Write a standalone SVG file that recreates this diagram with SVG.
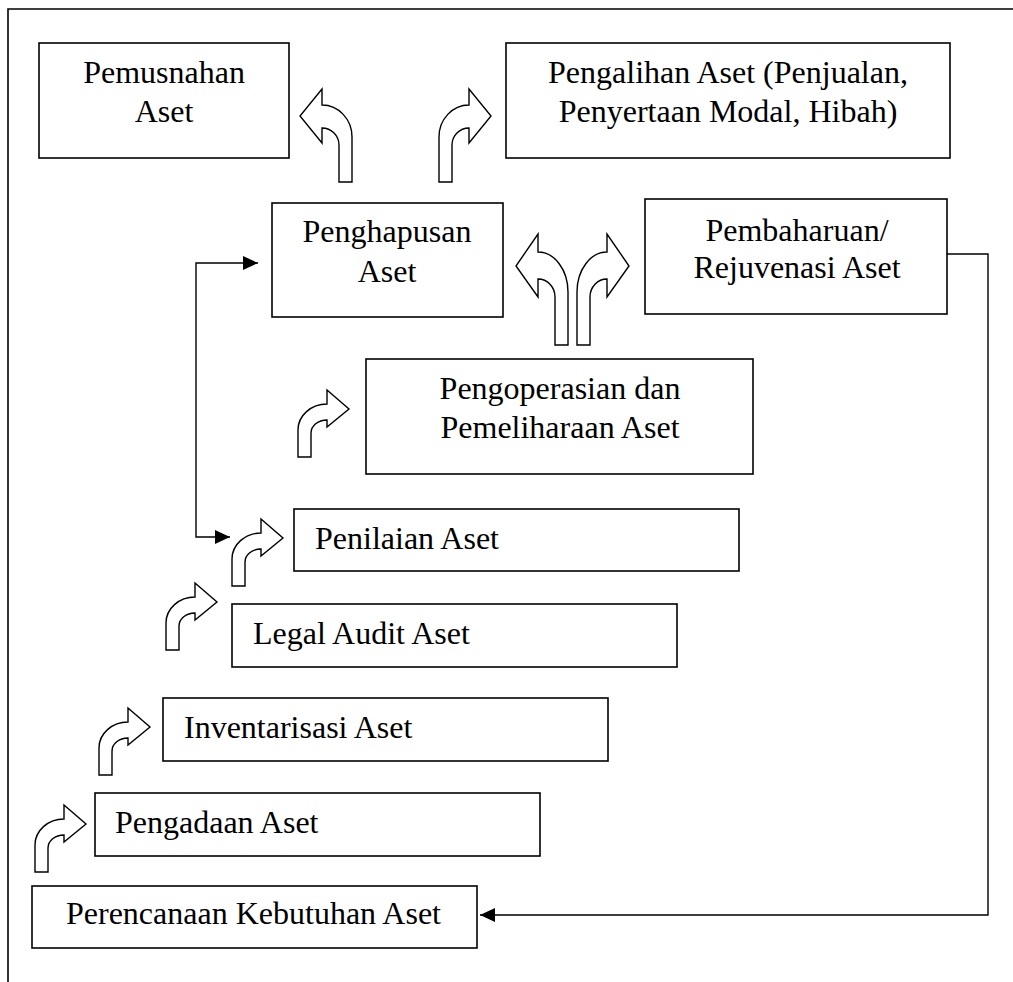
<svg xmlns="http://www.w3.org/2000/svg" width="1013" height="982" viewBox="0 0 1013 982">
<style>
.box{fill:#fff;stroke:#000;stroke-width:1.6}
.t{font-family:"Liberation Serif","Times New Roman",serif;font-size:32px;fill:#000}
.c{text-anchor:middle}
.bent{fill:#fff;stroke:#000;stroke-width:1.4;stroke-linejoin:miter}
.conn{fill:none;stroke:#000;stroke-width:1.4}
</style>
<defs>
<marker id="ah" markerUnits="userSpaceOnUse" markerWidth="16" markerHeight="14" refX="15" refY="7" orient="auto-start-reverse">
<path d="M0,0 L15,7 L0,14 Z" fill="#000"/>
</marker>
<path id="bs" d="M0,0 V-27 A29,26 0 0 1 29,-53 V-67 L51,-48 L29,-30 V-37 A16,13 0 0 0 13,-24 V0 Z"/>
<path id="bt" d="M0,0 V-45 A30,32 0 0 1 30,-77 V-93 L52,-66 L30,-39 V-54 A17,17 0 0 0 13,-37 V0 Z"/>
<path id="bd" d="M0,0 V-53 A30,40 0 0 1 30,-93 V-111 L52,-79 L30,-48 V-66 A17,18 0 0 0 13,-48 V0 Z"/>
</defs>
<rect width="1013" height="982" fill="#fff"/>
<path d="M8,982 V9 H1013" fill="none" stroke="#000" stroke-width="1.6"/>

<g id="pemusnahan">
<rect class="box" x="39" y="43" width="250" height="115"/>
<text class="t c" x="164" y="83">Pemusnahan</text>
<text class="t c" x="164" y="122">Aset</text>
</g>
<g id="pengalihan">
<rect class="box" x="506" y="43" width="444" height="115"/>
<text class="t c" x="728" y="83">Pengalihan Aset (Penjualan,</text>
<text class="t c" x="728" y="122">Penyertaan Modal, Hibah)</text>
</g>
<g id="penghapusan">
<rect class="box" x="272" y="203" width="231" height="114"/>
<text class="t c" x="387" y="242">Penghapusan</text>
<text class="t c" x="387" y="282">Aset</text>
</g>
<g id="pembaharuan">
<rect class="box" x="645" y="199" width="302" height="115"/>
<text class="t c" x="797" y="241">Pembaharuan/</text>
<text class="t c" x="797" y="278">Rejuvenasi Aset</text>
</g>
<g id="pengoperasian">
<rect class="box" x="366" y="359" width="387" height="115"/>
<text class="t c" x="560" y="399">Pengoperasian dan</text>
<text class="t c" x="560" y="438">Pemeliharaan Aset</text>
</g>
<g id="penilaian">
<rect class="box" x="294" y="509" width="445" height="62"/>
<text class="t" x="315" y="549">Penilaian Aset</text>
</g>
<g id="legal">
<rect class="box" x="232" y="604" width="445" height="63"/>
<text class="t" x="253" y="644">Legal Audit Aset</text>
</g>
<g id="inventarisasi">
<rect class="box" x="163" y="698" width="445" height="63"/>
<text class="t" x="184" y="738">Inventarisasi Aset</text>
</g>
<g id="pengadaan">
<rect class="box" x="95" y="793" width="445" height="63"/>
<text class="t" x="115" y="833">Pengadaan Aset</text>
</g>
<g id="perencanaan">
<rect class="box" x="32" y="886" width="445" height="62"/>
<text class="t" x="66" y="924">Perencanaan Kebutuhan Aset</text>
</g>

<g id="bent-arrows">
<use href="#bt" class="bent" transform="translate(352,182) scale(-1,1)"/>
<use href="#bt" class="bent" transform="translate(439,182)"/>
<use href="#bd" class="bent" transform="translate(568,345) scale(-1,1)"/>
<use href="#bd" class="bent" transform="translate(577,345)"/>
<use href="#bs" class="bent" transform="translate(298,457)"/>
<use href="#bs" class="bent" transform="translate(232,586)"/>
<use href="#bs" class="bent" transform="translate(166,650)"/>
<use href="#bs" class="bent" transform="translate(99,775)"/>
<use href="#bs" class="bent" transform="translate(35,872)"/>
</g>

<g id="connectors">
<path class="conn" d="M258,263 H196 V537 H230" marker-start="url(#ah)" marker-end="url(#ah)"/>
<path class="conn" d="M947,254 H988 V915 H480" marker-end="url(#ah)"/>
</g>
</svg>
